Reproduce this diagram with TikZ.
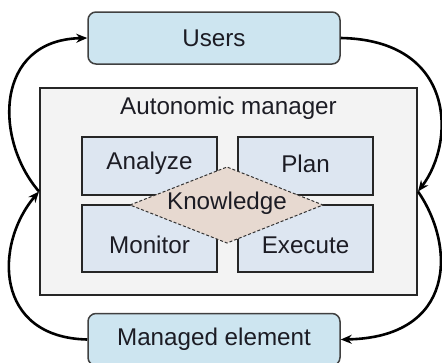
\documentclass[tikz,border=0pt]{standalone}
\usepackage{fontspec}
\setmainfont{Liberation Sans}
\usetikzlibrary{arrows.meta}
\definecolor{actorfill}{HTML}{CDE5F0}
\definecolor{phasefill}{HTML}{DDE6F1}
\definecolor{mgrfill}{HTML}{F3F3F3}
\definecolor{kbfill}{HTML}{E7D9D0}
\definecolor{inkcol}{HTML}{1C1C24}
\tikzset{
  actor/.style={draw=black!75, line width=1.5pt, fill=actorfill, rounded corners=8pt,
    minimum width=252pt, minimum height=52pt, inner sep=0pt, text=inkcol},
  manager/.style={draw=black!85, line width=2pt, fill=mgrfill,
    minimum width=377pt, minimum height=207pt, inner sep=0pt},
  phase/.style={draw=black!85, line width=2pt, fill=phasefill,
    minimum width=135pt, inner sep=0pt},
  lbl/.style={text=inkcol, inner sep=0pt},
  flow/.style={line width=2.6pt, -{Stealth[length=11pt,width=9pt]}},
}
\begin{document}
\begin{tikzpicture}[x=1pt, y=-1pt, font=\fontsize{24.2}{29}\selectfont]
\useasboundingbox (0,0) rectangle (442,362);

% outer boxes
\node[actor] (users) at (214,38) {Users};
\node[actor] (elem) at (214,339.5) {Managed element};
\node[manager] (am) at (228.5,191.5) {};
\node[lbl] (amtitle) at (228.5,108) {Autonomic manager};

% MAPE phases
\node[phase, minimum height=58pt] (analyze) at (149.5,166) {};
\node[phase, minimum height=58pt] (plan) at (305.5,166) {};
\node[phase, minimum height=67pt] (monitor) at (149.5,238.5) {};
\node[phase, minimum height=67pt] (execute) at (305.5,238.5) {};
\node[lbl] at (149.5,163.5) {Analyze};
\node[lbl] at (305.5,163.5) {Plan};
\node[lbl] at (149.5,245) {Monitor};
\node[lbl] at (305.5,245) {Execute};

% shared knowledge
\coordinate (kl) at (130,205);
\coordinate (kt) at (227,167);
\coordinate (kr) at (323,205);
\coordinate (kb) at (227,243);
\filldraw[fill=kbfill, draw=black!80, line width=1pt, densely dashed]
  (kl) -- (kt) -- (kr) -- (kb) -- cycle;
\node[lbl] (knowledge) at (227,203) {Knowledge};

% control loop
\draw[flow] (am.west) .. controls +(-45,-52) and +(-93,2) .. (users.west);
\draw[flow] (elem.west) .. controls +(-93,-2) and +(-45,53) .. (am.west);
\draw[flow] (users.east) .. controls +(115,2) and +(38,-50) .. (am.east);
\draw[flow] (am.east) .. controls +(38,55) and +(115,-2) .. (elem.east);
\end{tikzpicture}
\end{document}
